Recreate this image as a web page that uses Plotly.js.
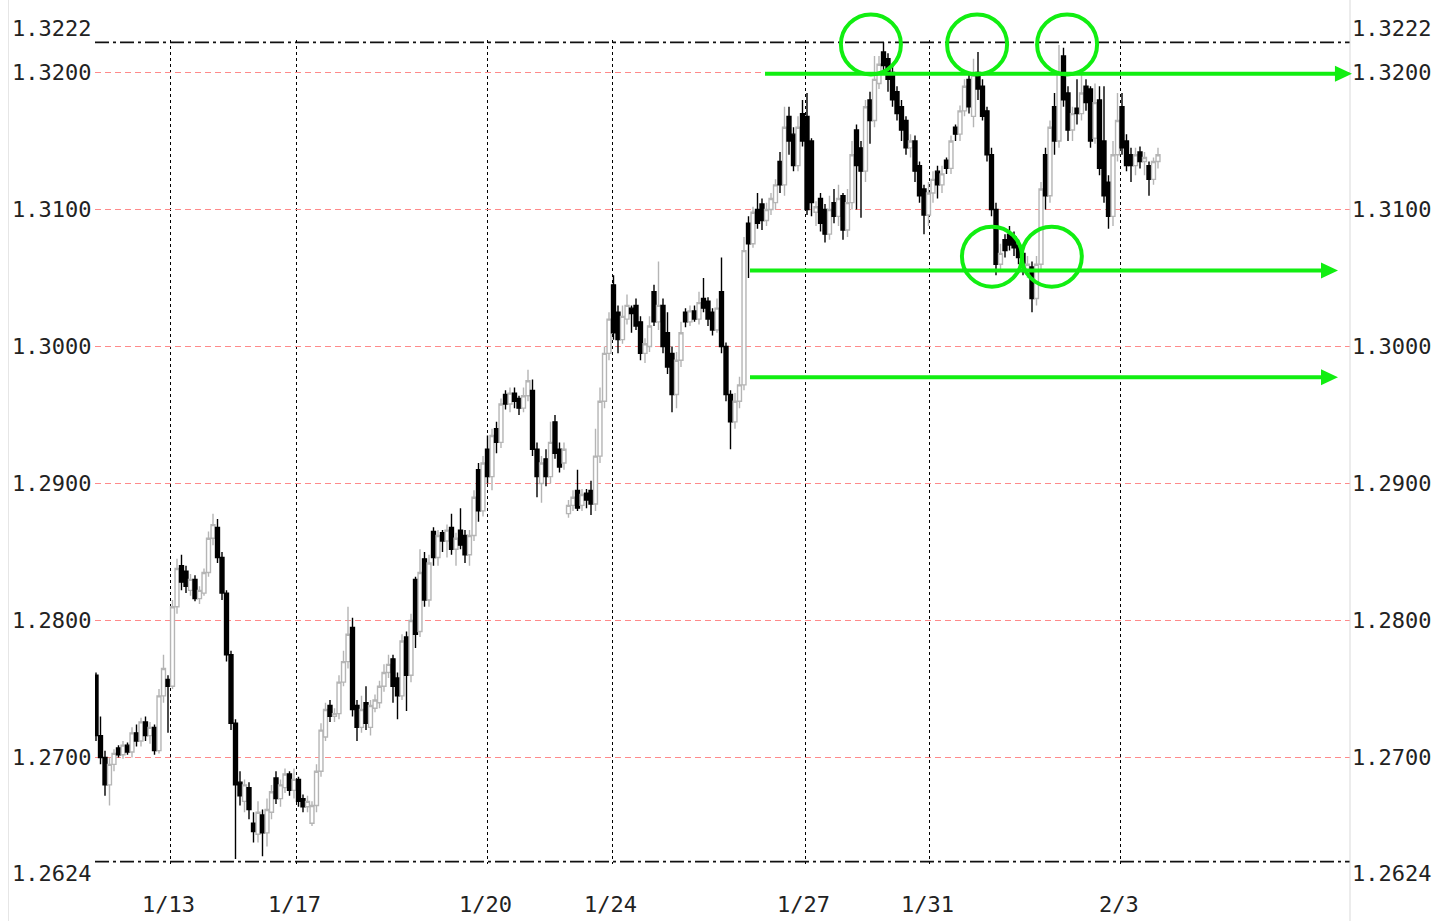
<!DOCTYPE html>
<html><head><meta charset="utf-8">
<script src="https://cdn.plot.ly/plotly-3.0.1.min.js"></script>
<style>html,body{margin:0;padding:0;background:#fff}#chart{width:1440px;height:921px}</style>
</head><body><div id="chart"></div>
<script>
// ---- data: OHLC per bar ----
const openP=[
1.2760,1.2716,1.2700,1.2680,1.2695,1.2707,1.2702,1.2709,1.2704,1.2718,
1.2712,1.2726,1.2716,1.2722,1.2705,1.2745,1.2757,1.2752,1.2810,1.2840,
1.2836,1.2822,1.2830,1.2816,1.2820,1.2835,1.2860,1.2868,1.2846,1.2820,
1.2775,1.2725,1.2682,1.2668,1.2678,1.2652,1.2644,1.2658,1.2645,1.2660,
1.2685,1.2670,1.2678,1.2688,1.2676,1.2684,1.2670,1.2664,1.2652,1.2665,
1.2690,1.2715,1.2738,1.2730,1.2732,1.2755,1.2770,1.2795,1.2738,1.2722,
1.2740,1.2722,1.2736,1.2740,1.2752,1.2762,1.2772,1.2758,1.2745,1.2788,
1.2760,1.2830,1.2792,1.2845,1.2815,1.2865,1.2846,1.2864,1.2858,1.2868,
1.2852,1.2866,1.2862,1.2848,1.2862,1.2910,1.2880,1.2925,1.2905,1.2940,
1.2930,1.2965,1.2958,1.2966,1.2962,1.2955,1.2964,1.2968,1.2925,1.2900,
1.2918,1.2905,1.2945,1.2925,1.2915,1.2878,1.2884,1.2895,1.2884,1.2893,
1.2895,1.2885,1.2920,1.2960,1.2995,1.3045,1.3025,1.3005,1.3020,1.3028,
1.3030,1.3018,1.2995,1.3000,1.3040,1.3018,1.3030,1.3010,1.2995,1.2965,
1.2990,1.3025,1.3018,1.3026,1.3020,1.3035,1.3033,1.3025,1.3012,1.3040,
1.3000,1.2965,1.2945,1.2960,1.2972,1.3090,1.3075,1.3100,1.3104,1.3092,
1.3100,1.3105,1.3135,1.3118,1.3168,1.3155,1.3132,1.3170,1.3168,1.3150,
1.3098,1.3108,1.3100,1.3082,1.3105,1.3095,1.3110,1.3085,1.3105,1.3158,
1.3145,1.3128,1.3180,1.3165,1.3192,1.3215,1.3210,1.3200,1.3186,1.3175,
1.3165,1.3145,1.3150,1.3132,1.3115,1.3096,1.3112,1.3128,1.3118,1.3136,
1.3130,1.3160,1.3155,1.3172,1.3195,1.3168,1.3200,1.3190,1.3172,1.3140,
1.3100,1.3060,1.3078,1.3082,1.3080,1.3074,1.3068,1.3056,1.3058,1.3035,
1.3060,1.3140,1.3110,1.3175,1.3150,1.3212,1.3185,1.3158,1.3174,1.3170,
1.3190,1.3188,1.3152,1.3180,1.3150,1.3120,1.3095,1.3140,1.3175,1.3150,
1.3140,1.3132,1.3142,1.3135,1.3132,1.3122,1.3135];
const highP=[
1.2762,1.2730,1.2705,1.2700,1.2706,1.2709,1.2712,1.2711,1.2722,1.2724,
1.2729,1.2730,1.2726,1.2724,1.2750,1.2775,1.2760,1.2815,1.2845,1.2848,
1.2840,1.2834,1.2833,1.2825,1.2838,1.2865,1.2878,1.2874,1.2850,1.2822,
1.2778,1.2728,1.2690,1.2684,1.2682,1.2660,1.2668,1.2662,1.2670,1.2680,
1.2690,1.2684,1.2692,1.2690,1.2692,1.2686,1.2673,1.2672,1.2668,1.2695,
1.2725,1.2740,1.2742,1.2736,1.2760,1.2778,1.2810,1.2802,1.2742,1.2745,
1.2752,1.2742,1.2746,1.2756,1.2768,1.2775,1.2775,1.2762,1.2790,1.2792,
1.2805,1.2832,1.2852,1.2850,1.2848,1.2868,1.2866,1.2866,1.2870,1.2878,
1.2864,1.2882,1.2866,1.2866,1.2895,1.2915,1.2920,1.2935,1.2940,1.2945,
1.2962,1.2968,1.2970,1.2970,1.2964,1.2970,1.2983,1.2976,1.2930,1.2920,
1.2925,1.2945,1.2950,1.2930,1.2930,1.2888,1.2895,1.2910,1.2896,1.2896,
1.2902,1.2940,1.2970,1.3000,1.3025,1.3052,1.3030,1.3030,1.3038,1.3030,
1.3035,1.3022,1.3006,1.3022,1.3045,1.3062,1.3035,1.3025,1.3000,1.2996,
1.3018,1.3028,1.3030,1.3030,1.3040,1.3050,1.3036,1.3028,1.3035,1.3065,
1.3003,1.2968,1.2966,1.2978,1.3080,1.3095,1.3102,1.3112,1.3108,1.3105,
1.3112,1.3122,1.3142,1.3175,1.3175,1.3160,1.3168,1.3180,1.3185,1.3152,
1.3106,1.3112,1.3104,1.3110,1.3115,1.3118,1.3112,1.3115,1.3150,1.3162,
1.3150,1.3180,1.3186,1.3212,1.3212,1.3222,1.3214,1.3205,1.3190,1.3180,
1.3168,1.3155,1.3154,1.3135,1.3118,1.3120,1.3128,1.3132,1.3132,1.3138,
1.3154,1.3162,1.3176,1.3195,1.3200,1.3210,1.3215,1.3195,1.3175,1.3145,
1.3105,1.3075,1.3082,1.3088,1.3084,1.3078,1.3070,1.3066,1.3062,1.3066,
1.3120,1.3145,1.3165,1.3185,1.3220,1.3218,1.3190,1.3175,1.3195,1.3198,
1.3195,1.3190,1.3192,1.3190,1.3190,1.3125,1.3150,1.3185,1.3185,1.3155,
1.3145,1.3145,1.3146,1.3142,1.3135,1.3138,1.3145];
const lowP=[
1.2712,1.2695,1.2672,1.2665,1.2690,1.2700,1.2699,1.2702,1.2700,1.2708,
1.2708,1.2712,1.2710,1.2702,1.2703,1.2740,1.2718,1.2750,1.2805,1.2822,
1.2820,1.2818,1.2814,1.2812,1.2818,1.2832,1.2855,1.2842,1.2815,1.2770,
1.2720,1.2626,1.2665,1.2660,1.2655,1.2638,1.2638,1.2628,1.2635,1.2655,
1.2666,1.2664,1.2674,1.2672,1.2670,1.2664,1.2660,1.2660,1.2650,1.2660,
1.2686,1.2712,1.2726,1.2726,1.2728,1.2752,1.2765,1.2730,1.2712,1.2718,
1.2720,1.2716,1.2733,1.2736,1.2748,1.2758,1.2740,1.2728,1.2742,1.2734,
1.2755,1.2780,1.2788,1.2810,1.2810,1.2840,1.2840,1.2850,1.2846,1.2848,
1.2840,1.2852,1.2842,1.2840,1.2858,1.2872,1.2876,1.2900,1.2895,1.2922,
1.2926,1.2954,1.2952,1.2955,1.2950,1.2952,1.2960,1.2920,1.2890,1.2886,
1.2898,1.2900,1.2918,1.2908,1.2910,1.2875,1.2880,1.2880,1.2880,1.2882,
1.2877,1.2880,1.2915,1.2955,1.2990,1.3005,1.2995,1.3002,1.3016,1.3010,
1.3012,1.2990,1.2988,1.2996,1.3015,1.3012,1.2995,1.2980,1.2952,1.2955,
1.2985,1.3014,1.3015,1.3018,1.3016,1.3025,1.3015,1.3008,1.3010,1.2995,
1.2960,1.2925,1.2940,1.2955,1.2968,1.3050,1.3072,1.3086,1.3085,1.3088,
1.3096,1.3100,1.3112,1.3110,1.3140,1.3128,1.3128,1.3146,1.3096,1.3095,
1.3088,1.3084,1.3076,1.3078,1.3090,1.3088,1.3078,1.3080,1.3100,1.3100,
1.3094,1.3120,1.3148,1.3160,1.3188,1.3200,1.3186,1.3175,1.3165,1.3150,
1.3140,1.3138,1.3120,1.3105,1.3082,1.3088,1.3105,1.3108,1.3112,1.3126,
1.3126,1.3150,1.3150,1.3168,1.3170,1.3160,1.3180,1.3165,1.3135,1.3095,
1.3052,1.3055,1.3065,1.3070,1.3066,1.3060,1.3052,1.3050,1.3025,1.3030,
1.3055,1.3100,1.3105,1.3140,1.3145,1.3175,1.3150,1.3150,1.3162,1.3165,
1.3172,1.3145,1.3148,1.3125,1.3105,1.3086,1.3088,1.3135,1.3140,1.3128,
1.3120,1.3125,1.3130,1.3125,1.3110,1.3118,1.3130];
const closeP=[
1.2716,1.2700,1.2680,1.2695,1.2703,1.2702,1.2709,1.2704,1.2718,1.2712,
1.2726,1.2716,1.2722,1.2705,1.2745,1.2765,1.2752,1.2810,1.2838,1.2828,
1.2825,1.2830,1.2816,1.2822,1.2835,1.2860,1.2870,1.2846,1.2820,1.2775,
1.2725,1.2680,1.2672,1.2680,1.2662,1.2646,1.2660,1.2645,1.2662,1.2675,
1.2670,1.2680,1.2688,1.2676,1.2684,1.2668,1.2664,1.2668,1.2665,1.2690,
1.2720,1.2735,1.2730,1.2732,1.2755,1.2770,1.2790,1.2735,1.2722,1.2735,
1.2725,1.2738,1.2742,1.2752,1.2762,1.2768,1.2752,1.2745,1.2785,1.2760,
1.2800,1.2790,1.2835,1.2815,1.2842,1.2846,1.2862,1.2858,1.2866,1.2852,
1.2860,1.2855,1.2848,1.2862,1.2890,1.2880,1.2915,1.2905,1.2935,1.2930,
1.2958,1.2958,1.2966,1.2960,1.2955,1.2964,1.2975,1.2925,1.2905,1.2915,
1.2905,1.2930,1.2922,1.2912,1.2925,1.2884,1.2890,1.2882,1.2892,1.2888,
1.2885,1.2920,1.2960,1.2995,1.3020,1.3010,1.3005,1.3022,1.3030,1.3024,
1.3015,1.2995,1.3002,1.3015,1.3018,1.3030,1.3000,1.2985,1.2965,1.2990,
1.3010,1.3018,1.3026,1.3020,1.3032,1.3028,1.3020,1.3012,1.3028,1.3000,
1.2965,1.2945,1.2960,1.2972,1.3070,1.3075,1.3098,1.3090,1.3092,1.3100,
1.3108,1.3118,1.3118,1.3160,1.3150,1.3132,1.3160,1.3150,1.3100,1.3105,
1.3102,1.3090,1.3082,1.3100,1.3095,1.3108,1.3085,1.3105,1.3140,1.3132,
1.3128,1.3175,1.3165,1.3195,1.3206,1.3205,1.3195,1.3180,1.3170,1.3158,
1.3145,1.3150,1.3128,1.3110,1.3096,1.3112,1.3122,1.3118,1.3126,1.3130,
1.3150,1.3155,1.3172,1.3190,1.3175,1.3198,1.3188,1.3168,1.3140,1.3100,
1.3060,1.3068,1.3070,1.3074,1.3072,1.3065,1.3058,1.3060,1.3035,1.3060,
1.3115,1.3110,1.3160,1.3150,1.3200,1.3180,1.3158,1.3170,1.3170,1.3185,
1.3178,1.3150,1.3178,1.3130,1.3110,1.3095,1.3140,1.3165,1.3145,1.3132,
1.3132,1.3140,1.3135,1.3138,1.3122,1.3135,1.3140];

// date labels (at bar positions) and price levels
const dateTickPos=[16.556,44.556,87.0,114.778,157.667,185.222,227.667];
const dateTickText=['1/13','1/17','1/20','1/24','1/27','1/31','2/3'];
const gridPrices=[1.27,1.28,1.29,1.30,1.31,1.32];
const priceTop=1.3222, priceBottom=1.2624;
const priceLabels=[1.3222,1.3200,1.3100,1.3000,1.2900,1.2800,1.2700,1.2624];

// drawn-on markup (horizontal lines with arrows, circles)
const arrowLevels=[1.3199,1.30555,1.29775];
const arrowStart=[148.67,145.33,145.33];
const arrowTip=[279.1,276.0,276.0];
const circleX=[172.2,195.8,215.8,199.1,212.4];
const circleY=[1.32205,1.32205,1.32205,1.30656,1.30656];

const barX=openP.map((_,i)=>i);
const GREEN='#11ee11';
const FONT='DejaVu Sans Mono';

// axis geometry
const ML=95, MR=90, MT=40, MB=57, W=1440, H=921;
const PX_PER_UNIT=13700;          // 0.01 = 137 px
const PITCH=4.5;                  // px per bar
const yMax=1.32+32.5/PX_PER_UNIT;
const yMin=yMax-(H-MT-MB)/PX_PER_UNIT;
const xMin=-0.2222, xMax=xMin+(W-ML-MR)/PITCH;
const toPX=x=>(x-xMin)/(xMax-xMin);
const toPY=p=>(p-yMin)/(yMax-yMin);

const trace={
  type:'candlestick', x:barX, open:openP, high:highP, low:lowP, close:closeP,
  increasing:{line:{color:'#b5b5b5',width:1.4},fillcolor:'#ffffff'},
  decreasing:{line:{color:'#000000',width:1.4},fillcolor:'#000000'},
  whiskerwidth:0, hoverinfo:'skip', showlegend:false
};

const shapes=[];
const ph=H-MT-MB;
shapes.push({type:'line',xref:'paper',yref:'paper',x0:1,x1:1,y0:-MB/ph,y1:1+MT/ph,line:{color:'#d9d9d9',width:1}});
shapes.push({type:'line',xref:'paper',yref:'paper',x0:(8.5-ML)/(W-ML-MR),x1:(8.5-ML)/(W-ML-MR),y0:-MB/ph,y1:1+MT/ph,line:{color:'#e6e6e6',width:1}});
[priceTop,priceBottom].forEach(p=>shapes.push({type:'line',xref:'paper',yref:'y',x0:0,x1:1,y0:p,y1:p,layer:'below',
  line:{color:'#111',width:1.6,dash:'14px,4px,3px,4px'}}));
arrowLevels.forEach((p,k)=>{
  shapes.push({type:'line',xref:'paper',yref:'paper',x0:toPX(arrowStart[k]),x1:toPX(arrowTip[k]-6/PITCH),y0:toPY(p),y1:toPY(p),line:{color:GREEN,width:4}});
  shapes.push({type:'path',xref:'paper',yref:'paper',xsizemode:'pixel',ysizemode:'pixel',xanchor:toPX(arrowTip[k]),yanchor:toPY(p),
    path:'M -17,8 L 0,0 L -17,-8 Z',fillcolor:GREEN,line:{color:GREEN,width:0}});
});
circleX.forEach((cx,k)=>shapes.push({type:'circle',xref:'paper',yref:'paper',xsizemode:'pixel',ysizemode:'pixel',
  xanchor:toPX(cx),yanchor:toPY(circleY[k]),x0:-30,x1:30,y0:-30,y1:30,line:{color:GREEN,width:4}}));

const annotations=[];
priceLabels.forEach(v=>{
  const ys = v===priceTop?14:(v===priceBottom?-12:0);
  annotations.push({xref:'paper',yref:'y',x:0,y:v,xanchor:'right',yanchor:'middle',xshift:-2,yshift:ys,
    text:v.toFixed(4),showarrow:false,font:{family:FONT,size:22,color:'#222'}});
  annotations.push({xref:'paper',yref:'y',x:1,y:v,xanchor:'left',yanchor:'middle',xshift:0,yshift:ys,
    text:v.toFixed(4),showarrow:false,font:{family:FONT,size:22,color:'#222'}});
});
dateTickPos.forEach((p,k)=>annotations.push({xref:'x',yref:'paper',x:p,y:0,xanchor:'center',yanchor:'top',yshift:-26,xshift:-2,
  text:dateTickText[k],showarrow:false,font:{family:FONT,size:22,color:'#222'}}));

const layout={
  width:W,height:H,
  margin:{l:ML,r:MR,t:MT,b:MB,pad:0},
  paper_bgcolor:'#ffffff',plot_bgcolor:'#ffffff',
  showlegend:false, boxgap:0.08, boxgroupgap:0.05,
  xaxis:{type:'linear',range:[xMin,xMax],tickmode:'array',tickvals:dateTickPos,showticklabels:false,ticks:'',
    showgrid:true,gridcolor:'#000000',gridwidth:1,griddash:'3px,3px',zeroline:false,showline:false,
    rangeslider:{visible:false},fixedrange:true},
  yaxis:{range:[yMin,yMax],tickmode:'array',tickvals:gridPrices,showticklabels:false,ticks:'',
    showgrid:true,gridcolor:'#ff8a8a',gridwidth:1,griddash:'6px,4px',zeroline:false,showline:false,fixedrange:true},
  shapes:shapes, annotations:annotations
};
Plotly.newPlot('chart',[trace],layout,{staticPlot:true,displayModeBar:false});
</script></body></html>
